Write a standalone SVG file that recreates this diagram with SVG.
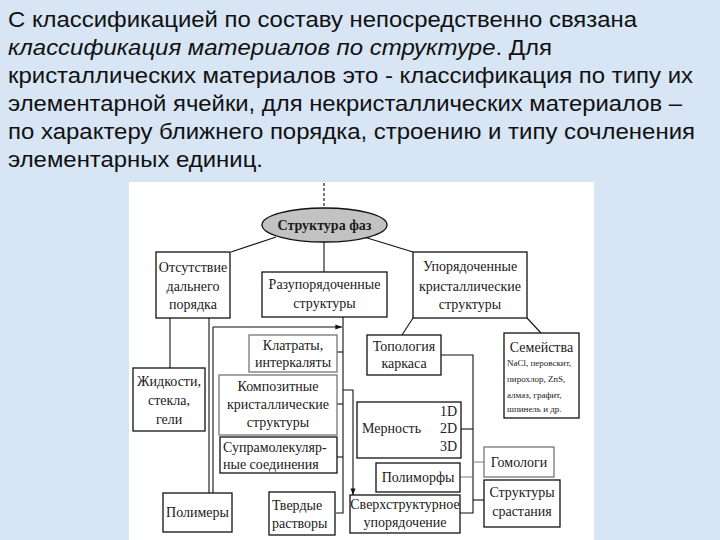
<svg xmlns="http://www.w3.org/2000/svg" width="720" height="540" viewBox="0 0 720 540">
<defs>
<style>
.t{font-family:"Liberation Sans",Arial,sans-serif;font-size:22px;fill:#111}
.d{font-family:"Liberation Serif","Times New Roman",serif;font-size:14px;fill:#1a1a1a}
.s{font-family:"Liberation Serif","Times New Roman",serif;font-size:9px;fill:#1a1a1a}
.b{fill:#fff;stroke:#111;stroke-width:1.3}
.g{fill:#fff;stroke:#777;stroke-width:1.3}
.c{fill:none;stroke:#111;stroke-width:1.1}
.cg{fill:none;stroke:#888;stroke-width:1.1}
</style>
<marker id="ar" viewBox="0 0 8 8" refX="8" refY="4" markerWidth="6" markerHeight="6" orient="auto"><path d="M0,1 L8,4 L0,7 z" fill="#111"/></marker>
</defs>
<rect width="720" height="540" fill="#d7e5f5"/>
<g id="intro">
<text class="t" x="8" y="27" textLength="629" lengthAdjust="spacingAndGlyphs">С классификацией по составу непосредственно связана</text>
<text class="t" x="8" y="55" textLength="544" lengthAdjust="spacingAndGlyphs"><tspan font-style="italic">классификация материалов по структуре</tspan>. Для</text>
<text class="t" x="8" y="83" textLength="685" lengthAdjust="spacingAndGlyphs">кристаллических материалов это - классификация по типу их</text>
<text class="t" x="8" y="111" textLength="674" lengthAdjust="spacingAndGlyphs">элементарной ячейки, для некристаллических материалов –</text>
<text class="t" x="8" y="139" textLength="687" lengthAdjust="spacingAndGlyphs">по характеру ближнего порядка, строению и типу сочленения</text>
<text class="t" x="8" y="167" textLength="255" lengthAdjust="spacingAndGlyphs">элементарных единиц.</text>
</g>
<rect x="129" y="182" width="465" height="358" fill="#fff"/>
<g id="connectors">
<path class="c" d="M324,183 V208" stroke-dasharray="3,2"/>
<path class="c" d="M276,237 L231,252"/>
<path class="c" d="M324,242 V272"/>
<path class="c" d="M364,237 L413,252"/>
<path class="c" d="M413,318 L402,335"/>
<path class="c" d="M527,318 L541,333"/>
<path class="c" d="M170,318 V368"/>
<path class="c" d="M209,318 V493"/>
<path class="c" d="M213,327 V493"/>
<path class="c" d="M213,327 H342" marker-end="url(#ar)"/>
<path class="c" d="M343,317 V513 H336"/>
<path class="c" d="M337,352 H343"/>
<path class="c" d="M337,404 H343"/>
<path class="c" d="M337,457 H343"/>
<path class="c" d="M343,390 H353 V495" marker-end="url(#ar)"/>
<path class="c" d="M441,355 H473 V513 H460"/>
<path class="c" d="M461,429 H473"/>
<path class="cg" d="M460,477 H473"/>
<path class="cg" d="M473,462 H484"/>
<path class="c" d="M473,500 H484" stroke-width="2"/>
</g>
<g id="root">
<ellipse cx="324.5" cy="225" rx="62.5" ry="17" fill="#c2c2c2" stroke="#111" stroke-width="1.3"/>
<text class="d" x="324.5" y="230" text-anchor="middle" font-weight="bold">Структура фаз</text>
</g>
<g id="n-otsut">
<rect class="b" x="156" y="252" width="74" height="66"/>
<text class="d" x="193" y="272" text-anchor="middle">Отсутствие</text>
<text class="d" x="193" y="291" text-anchor="middle">дальнего</text>
<text class="d" x="193" y="309" text-anchor="middle">порядка</text>
</g>
<g id="n-razup">
<rect class="b" x="262" y="272" width="125" height="45"/>
<text class="d" x="324.5" y="289" text-anchor="middle">Разупорядоченные</text>
<text class="d" x="324.5" y="308" text-anchor="middle">структуры</text>
</g>
<g id="n-uporyad">
<rect class="b" x="413" y="252" width="114" height="66"/>
<text class="d" x="470" y="271" text-anchor="middle">Упорядоченные</text>
<text class="d" x="470" y="291" text-anchor="middle">кристаллические</text>
<text class="d" x="470" y="309" text-anchor="middle">структуры</text>
</g>
<g id="n-zhidk">
<rect class="b" x="133" y="368" width="72" height="63"/>
<text class="d" x="169" y="386" text-anchor="middle">Жидкости,</text>
<text class="d" x="169" y="405" text-anchor="middle">стекла,</text>
<text class="d" x="169" y="424" text-anchor="middle">гели</text>
</g>
<g id="n-klatr">
<rect class="g" x="249" y="335" width="88" height="37"/>
<text class="d" x="293" y="350" text-anchor="middle">Клатраты,</text>
<text class="d" x="293" y="367" text-anchor="middle">интеркаляты</text>
</g>
<g id="n-kompoz">
<rect class="g" x="219" y="375" width="118" height="60"/>
<text class="d" x="278" y="391" text-anchor="middle">Композитные</text>
<text class="d" x="278" y="409" text-anchor="middle">кристаллические</text>
<text class="d" x="278" y="427" text-anchor="middle">структуры</text>
</g>
<g id="n-supra">
<rect class="b" x="220" y="437" width="117" height="36"/>
<text class="d" x="223" y="452">Супрамолекуляр-</text>
<text class="d" x="223" y="469">ные соединения</text>
</g>
<g id="n-polim">
<rect class="b" x="163" y="493" width="69" height="39"/>
<text class="d" x="197.5" y="517" text-anchor="middle">Полимеры</text>
</g>
<g id="n-tverd">
<rect class="b" x="269" y="492" width="66" height="43"/>
<text class="d" x="272" y="510">Твердые</text>
<text class="d" x="272" y="528">растворы</text>
</g>
<g id="n-topol">
<rect class="b" x="367" y="335" width="74" height="40"/>
<text class="d" x="404" y="351" text-anchor="middle">Топология</text>
<text class="d" x="404" y="368" text-anchor="middle">каркаса</text>
</g>
<g id="n-semeistva">
<rect class="b" x="504" y="333" width="75" height="85"/>
<text class="d" x="541.5" y="352" text-anchor="middle">Семейства</text>
<text class="s" x="507" y="366">NaCl, перовскит,</text>
<text class="s" x="507" y="382">пирохлор, ZnS,</text>
<text class="s" x="507" y="398">алмаз, графит,</text>
<text class="s" x="507" y="412">шпинель и др.</text>
</g>
<g id="n-mernost">
<rect class="b" x="357" y="402" width="104" height="56"/>
<text class="d" x="362" y="433">Мерность</text>
<text class="d" x="457" y="416" text-anchor="end">1D</text>
<text class="d" x="457" y="433" text-anchor="end">2D</text>
<text class="d" x="457" y="451" text-anchor="end">3D</text>
</g>
<g id="n-polimorf">
<rect class="b" x="376" y="463" width="84" height="29"/>
<text class="d" x="418" y="482" text-anchor="middle">Полиморфы</text>
</g>
<g id="n-sverkh">
<rect class="b" x="350" y="495" width="110" height="38"/>
<text class="d" x="405" y="509" text-anchor="middle">Сверхструктурное</text>
<text class="d" x="405" y="527" text-anchor="middle">упорядочение</text>
</g>
<g id="n-gomol">
<rect class="g" x="484" y="447" width="70" height="30"/>
<text class="d" x="519" y="467" text-anchor="middle">Гомологи</text>
</g>
<g id="n-srast">
<rect class="b" x="484" y="480" width="76" height="47"/>
<text class="d" x="522" y="497" text-anchor="middle">Структуры</text>
<text class="d" x="522" y="516" text-anchor="middle">срастания</text>
</g>
</svg>
